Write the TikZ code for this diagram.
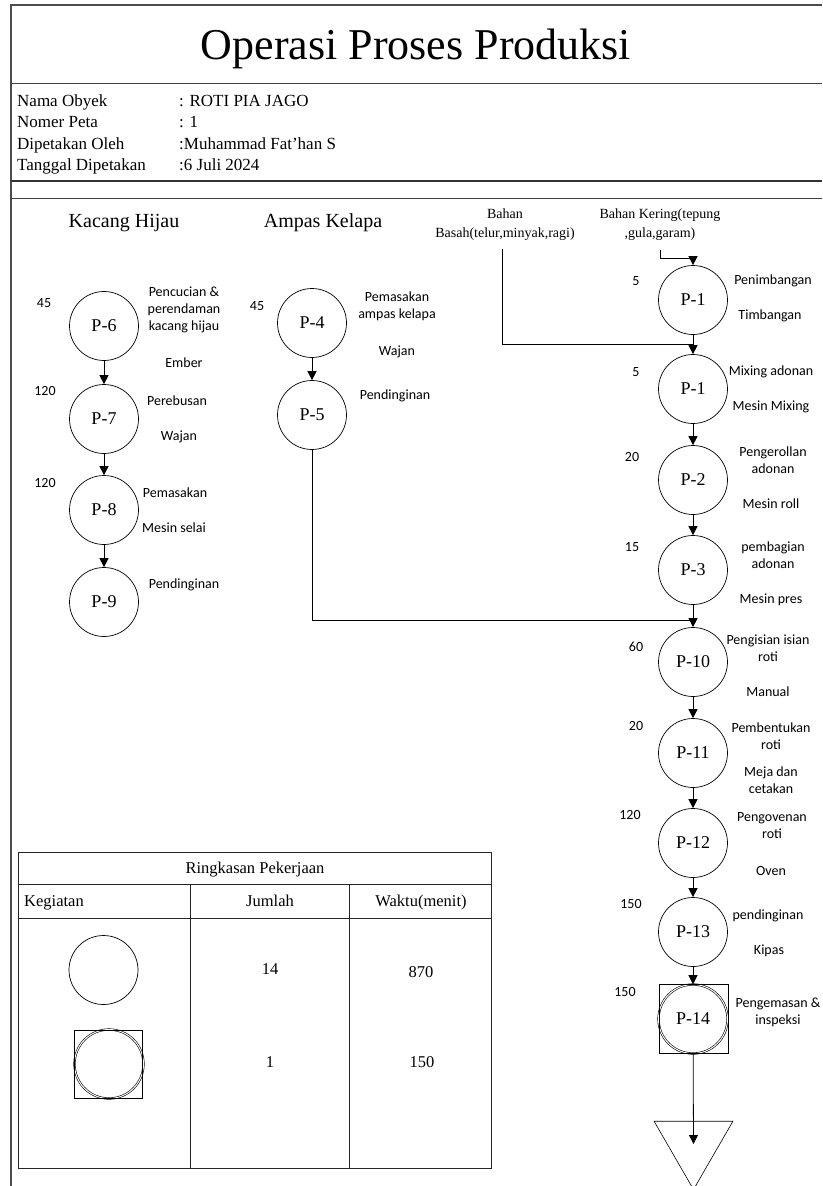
\documentclass[tikz,border=0pt]{standalone}
\usepackage{fontspec}
\setmainfont{Liberation Serif}
\newfontfamily\calfont{Carlito}
\usetikzlibrary{arrows.meta,positioning,calc,shapes.geometric}

\begin{document}
\begin{tikzpicture}[
  x=1pt, y=-1pt,
  >={Triangle[width=9pt,length=9pt]},
  pop/.style={draw,circle,minimum size=69pt,inner sep=0pt,line width=0.7pt,font=\fontsize{18}{20}\selectfont},
  pgab/.style={pop,double,double distance=1pt,line width=0.6pt},
  plbl/.style={font=\calfont\fontsize{14}{17}\selectfont,align=center,inner sep=0pt},
  phead/.style={font=\fontsize{20}{24}\selectfont,inner sep=0pt},
  pbahan/.style={font=\fontsize{14}{19.5}\selectfont,align=center,inner sep=0pt},
  pinfo/.style={font=\fontsize{17}{21}\selectfont,anchor=base west,inner sep=0pt},
  ptbl/.style={font=\fontsize{16.5}{20}\selectfont,inner sep=0pt,text height=11.5pt,text depth=3.5pt},
  garis/.style={line width=0.8pt},
  bingkai/.style={line width=1.3pt,black!70}
]
\useasboundingbox (0,0) rectangle (822,1186);

% bingkai dan kepala
\draw[bingkai] (822,5) -- (11,5) -- (11,1186);
\draw[line width=1pt,black!75] (11,83) -- (822,83);
\draw[line width=1.6pt,black!80] (11,181) -- (822,181);
\draw[line width=1pt,black!75] (11,198) -- (822,198);
\node[font=\fontsize{44}{50}\selectfont,inner sep=0pt] (judul) at (416,49) {Operasi Proses Produksi};
\foreach \k/\v/\y [count=\i] in {Nama Obyek/{: ROTI PIA JAGO}/106.5,
    Nomer Peta/{: 1}/127.5,
    Dipetakan Oleh/{:Muhammad Fat'han S}/149.5,
    Tanggal Dipetakan/{:6 Juli 2024}/170.5}{
  \node[pinfo] (k\i) at (17,\y) {\k};
  \node[pinfo] (v\i) at (179,\y) {\v};
}

% judul kolom
\node[phead] (hijau) at (124,223) {Kacang Hijau};
\node[phead] (ampas) at (323,223) {Ampas Kelapa};
\node[pbahan] (basah) at (505,224.5) {Bahan\\Basah(telur,minyak,ragi)};
\node[pbahan] (kering) at (660,224.5) {Bahan Kering(tepung\\,gula,garam)};

% kacang hijau
\node[pop] (p6) at (104,326) {P-6};
\node[pop] (p7) at (104,419) {P-7};
\node[pop] (p8) at (104,510) {P-8};
\node[pop] (p9) at (104,602) {P-9};
\node[plbl] (t6) at (44,303) {45};
\node[plbl] (l6) at (184,310) {Pencucian \&\\perendaman\\kacang hijau};
\node[plbl] (m6) at (184,363) {Ember};
\node[plbl] (t7) at (45,391) {120};
\node[plbl] (l7) at (177,401) {Perebusan};
\node[plbl] (m7) at (179,437) {Wajan};
\node[plbl] (t8) at (45,483) {120};
\node[plbl] (l8) at (175,493) {Pemasakan};
\node[plbl] (m8) at (174,528) {Mesin selai};
\node[plbl] (l9) at (184,585) {Pendinginan};

% ampas kelapa
\node[pop] (p4) at (312,323) {P-4};
\node[pop] (p5) at (312,415) {P-5};
\node[plbl] (t4) at (257,306) {45};
\node[plbl] (l4) at (397,306.5) {Pemasakan\\ampas kelapa};
\node[plbl] (m4) at (397,352) {Wajan};
\node[plbl] (l5) at (395,396) {Pendinginan};

% jalur utama
\node[pop] (p1a) at (693,300) {P-1};
\node[pop] (p1b) at (693,389) {P-1};
\node[pop] (p2) at (693,480) {P-2};
\node[pop] (p3) at (693,570) {P-3};
\node[pop] (p10) at (693,662) {P-10};
\node[pop] (p11) at (693,753) {P-11};
\node[pop] (p12) at (693,843) {P-12};
\node[pop] (p13) at (693,932) {P-13};
\node[pgab] (p14) at (693,1019) {P-14};
\node[draw,line width=0.6pt,minimum size=69pt,inner sep=0pt] (p14k) at (693.5,1019) {};
\node[draw,line width=0.6pt,regular polygon,regular polygon sides=3,shape border rotate=180,
  minimum size=91pt,inner sep=0pt] (gudang) at (693.5,1144) {};

\node[plbl] (t1a) at (636,281) {5};
\node[plbl] (l1a) at (773,281) {Penimbangan};
\node[plbl] (m1a) at (770,316) {Timbangan};
\node[plbl] (t1b) at (636,372) {5};
\node[plbl] (l1b) at (771,372) {Mixing adonan};
\node[plbl] (m1b) at (771,407) {Mesin Mixing};
\node[plbl] (t2) at (632,457) {20};
\node[plbl] (l2) at (773,460.5) {Pengerollan\\adonan};
\node[plbl] (m2) at (771,504) {Mesin roll};
\node[plbl] (t3) at (632,547) {15};
\node[plbl] (l3) at (773,555) {pembagian\\adonan};
\node[plbl] (m3) at (771,600) {Mesin pres};
\node[plbl] (t10) at (636,647) {60};
\node[plbl] (l10) at (768,648) {Pengisian isian\\roti};
\node[plbl] (m10) at (768,692) {Manual};
\node[plbl] (t11) at (636,726) {20};
\node[plbl] (l11) at (771,736) {Pembentukan\\roti};
\node[plbl] (m11) at (771,780.5) {Meja dan\\cetakan};
\node[plbl] (t12) at (630,815) {120};
\node[plbl] (l12) at (772,826) {Pengovenan\\roti};
\node[plbl] (m12) at (771,871) {Oven};
\node[plbl] (t13) at (631,904) {150};
\node[plbl] (l13) at (768,916) {pendinginan};
\node[plbl] (m13) at (769,951) {Kipas};
\node[plbl] (t14) at (625,992) {150};
\node[plbl] (l14) at (778,1012) {Pengemasan \&\\inspeksi};

% ringkasan
\node[ptbl] (ringkas) at (255,869) {Ringkasan Pekerjaan};
\node[ptbl,anchor=west] (keg) at (24,902) {Kegiatan};
\node[ptbl] (jml) at (270,902) {Jumlah};
\node[ptbl] (wkt) at (421,902) {Waktu(menit)};
\node[pop] (tbo) at (103.5,970) {};
\node[pgab] (tbg) at (109,1064) {};
\node[draw,line width=0.6pt,minimum size=68pt,inner sep=0pt] (tbk) at (108,1064) {};
\node[ptbl] (n1) at (270,970) {14};
\node[ptbl] (w1) at (421,973) {870};
\node[ptbl] (n2) at (270,1063) {1};
\node[ptbl] (w2) at (422,1063) {150};
\draw[line width=1pt,black!85] (18,852) rectangle (491,1168);
\draw[line width=1pt,black!85] (18,884) -- (491,884);
\draw[line width=1pt,black!85] (18,918) -- (491,918);
\draw[line width=1pt,black!85] (190,884) -- (190,1168);
\draw[line width=1pt,black!85] (349,884) -- (349,1168);

% panah
\coordinate (kin) at (660,250);
\coordinate (bin) at (502,249);
\coordinate (jb) at (693,344);
\coordinate (j10) at (693,620);
\draw[->,garis] (kin) |- ($(p1a.north)+(0,-7)$) -- (p1a.north);
\draw[garis] (bin) |- (jb);
\draw[garis] (p5) |- (j10);
\draw[->,garis] (p6) -- (p7);
\draw[->,garis] (p7) -- (p8);
\draw[->,garis] (p8) -- (p9);
\draw[->,garis] (p4) -- (p5);
\draw[->,garis] (p1a) -- (p1b);
\draw[->,garis] (p1b) -- (p2);
\draw[->,garis] (p2) -- (p3);
\draw[->,garis] (p3) -- (p10);
\draw[->,garis] (p10) -- (p11);
\draw[->,garis] (p11) -- (p12);
\draw[->,garis] (p12) -- (p13);
\draw[->,garis] (p13) -- (p14);
\draw[->,garis] (p14) -- (gudang.center);
\end{tikzpicture}
\end{document}
